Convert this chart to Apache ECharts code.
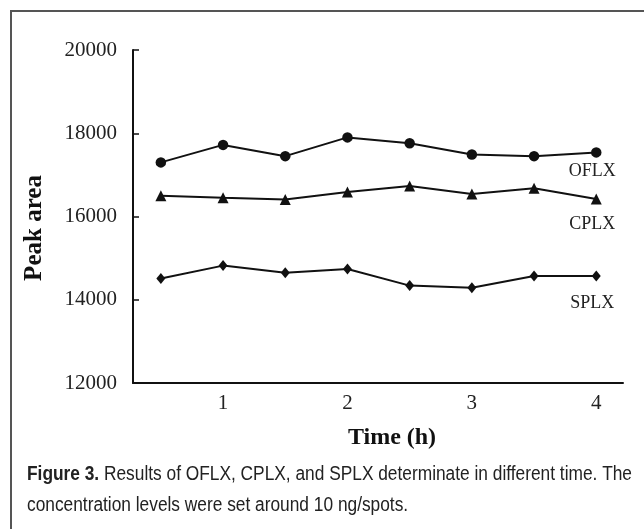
<!DOCTYPE html>
<html>
<head>
<meta charset="utf-8">
<script src="https://cdn.jsdelivr.net/npm/echarts@6/dist/echarts.min.js"></script>
<style>html,body{margin:0;padding:0;background:#fff}#c{width:644px;height:529px}</style>
</head>
<body>
<div id="c"></div>
<script>
const times = [0.5, 1, 1.5, 2, 2.5, 3, 3.5, 4];
const oflx = [17300, 17720, 17450, 17900, 17760, 17490, 17450, 17540];
const cplx = [16500, 16450, 16410, 16590, 16730, 16540, 16680, 16420];
const splx = [14510, 14820, 14650, 14740, 14340, 14290, 14570, 14570];
const xTickLabels = [1, 2, 3, 4];
const seriesNames = ['OFLX', 'CPLX', 'SPLX'];
const yAxisTitle = 'Peak area';
const xAxisTitle = 'Time (h)';
const captionBold = 'Figure 3.';
const captionLine1 = ' Results of OFLX, CPLX, and SPLX determinate in different time. The';
const captionLine2 = 'concentration levels were set around 10 ng/spots.';

const serif = '"Liberation Serif", "DejaVu Serif", serif';
const capFont = '"Liberation Sans Narrow", "Liberation Sans", "Open Sans", sans-serif';

function pairs(vals){ return vals.map((v,i)=>[times[i], v]); }
function withEndLabel(vals, name, dy){
  const d = pairs(vals);
  const last = d.length - 1;
  return d.map((p,i)=> i===last ? {value:p, label:{show:true, formatter:name, position:'inside', offset:[-4, dy],
    fontFamily:serif, fontSize:18, color:'#222'}} : p);
}

const cv = document.createElement('canvas').getContext('2d');
cv.font = 'bold 20px ' + capFont;
let w1 = cv.measureText(captionBold).width;
cv.font = '20px ' + capFont;
w1 += cv.measureText(captionLine1).width;
const sx = 605 / w1;

const chart = echarts.init(document.getElementById('c'));
const lineStyle = {color:'#111', width:2};
chart.setOption({
  animation:false,
  backgroundColor:'#fff',
  grid:{left:133, top:50, right:21, bottom:146, containLabel:false},
  xAxis:{
    type:'value', min:0.276, max:4.215,
    axisLine:{lineStyle:{color:'#111', width:2}},
    axisTick:{show:false},
    splitLine:{show:false},
    axisLabel:{customValues:xTickLabels, color:'#222', fontFamily:serif, fontSize:21, margin:10},
    name:xAxisTitle, nameLocation:'middle', nameGap:43,
    nameTextStyle:{fontFamily:serif, fontWeight:'bold', fontSize:24, color:'#111', padding:[0,0,0,28]}
  },
  yAxis:{
    type:'value', min:12000, max:20000, interval:2000,
    axisLine:{show:true, lineStyle:{color:'#111', width:2}},
    axisTick:{show:true, inside:true, length:6, lineStyle:{color:'#111', width:1.5}},
    splitLine:{show:false},
    axisLabel:{color:'#222', fontFamily:serif, fontSize:21, margin:16, formatter:v=>String(v)}
  },
  series:[
    {type:'line', name:seriesNames[0], data:withEndLabel(oflx, seriesNames[0], 19), symbol:'circle', symbolSize:10.5,
     lineStyle, itemStyle:{color:'#111'}},
    {type:'line', name:seriesNames[1], data:withEndLabel(cplx, seriesNames[1], 25), symbol:'triangle', symbolSize:11,
     lineStyle, itemStyle:{color:'#111'}},
    {type:'line', name:seriesNames[2], data:withEndLabel(splx, seriesNames[2], 27), symbol:'diamond', symbolSize:[9,11],
     lineStyle, itemStyle:{color:'#111'}}
  ],
  graphic:[
    {type:'rect', shape:{x:11, y:11, width:700, height:600}, style:{fill:'none', stroke:'#555', lineWidth:2}, silent:true},
    {type:'text', x:35, y:228, rotation:Math.PI/2, style:{
      text:yAxisTitle, align:'center', verticalAlign:'middle', font:'bold 25px '+serif, fill:'#111'
    }},
    {type:'text', x:27, y:474, scaleX:sx, style:{
      text:'{b|'+captionBold+'}{n|'+captionLine1+'}', verticalAlign:'middle',
      rich:{b:{fontFamily:capFont, fontWeight:'bold', fontSize:20, fill:'#222'}, n:{fontFamily:capFont, fontSize:20, fill:'#222'}}
    }},
    {type:'text', x:27, y:505, scaleX:sx, style:{
      text:captionLine2, verticalAlign:'middle', font:'20px '+capFont, fill:'#222'
    }}
  ]
});
</script>
</body>
</html>
